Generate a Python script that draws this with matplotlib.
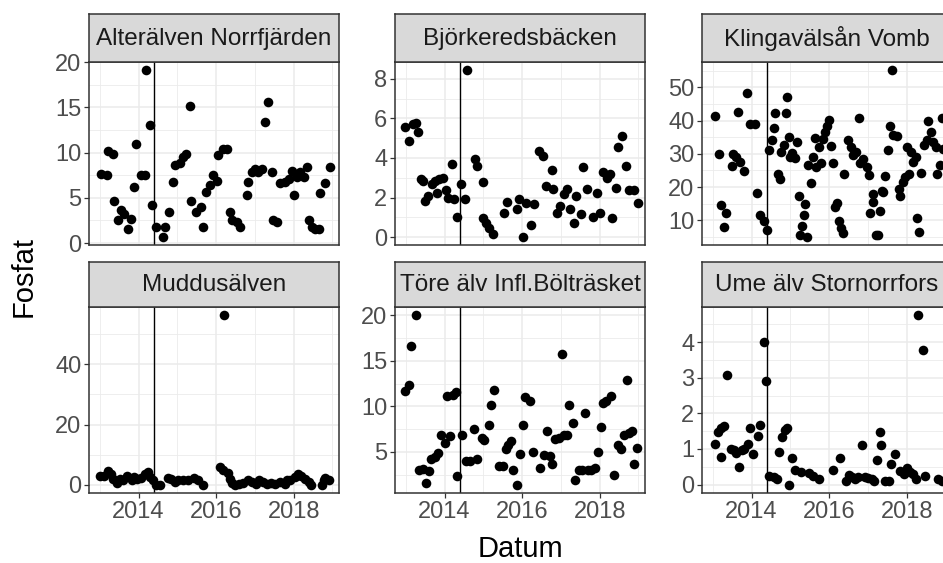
import numpy as np
import matplotlib
matplotlib.use("Agg")
from matplotlib import pyplot as plt
from matplotlib.ticker import MultipleLocator, FixedLocator, NullLocator

W, H = 943, 563
plt.rcParams['font.family'] = ['Liberation Sans', 'DejaVu Sans']

# sampling dates as decimal years
alter = [(2013.03, 7.66), (2013.18, 7.5), (2013.2, 10.2), (2013.33, 9.9), (2013.37, 4.7),
         (2013.46, 2.5), (2013.54, 3.6), (2013.63, 3.2), (2013.72, 1.6), (2013.8, 2.7),
         (2013.89, 6.2), (2013.93, 11.0), (2014.06, 7.5), (2014.16, 7.5), (2014.19, 19.1),
         (2014.3, 13.0), (2014.35, 4.2), (2014.45, 1.8), (2014.62, 0.7), (2014.69, 1.8),
         (2014.78, 3.4), (2014.88, 6.7), (2014.93, 8.6), (2015.06, 8.9), (2015.14, 9.5),
         (2015.21, 9.9), (2015.32, 15.2), (2015.36, 4.7), (2015.49, 3.4), (2015.62, 4.0),
         (2015.66, 1.8), (2015.75, 5.6), (2015.84, 6.4), (2015.92, 7.5), (2016.01, 6.9),
         (2016.05, 9.7), (2016.18, 10.4), (2016.27, 10.4), (2016.35, 3.4), (2016.4, 2.5),
         (2016.53, 2.3), (2016.61, 1.8), (2016.79, 5.3), (2016.83, 6.7), (2016.92, 7.8),
         (2017.0, 8.2), (2017.09, 7.8), (2017.18, 8.2), (2017.26, 13.4), (2017.35, 15.6),
         (2017.44, 7.8), (2017.48, 2.5), (2017.57, 2.3), (2017.66, 6.6), (2017.78, 6.7),
         (2017.87, 7.1), (2017.96, 8.0), (2018.0, 5.3), (2018.09, 7.3), (2018.17, 7.8),
         (2018.26, 7.3), (2018.35, 8.4), (2018.39, 2.5), (2018.48, 1.8), (2018.56, 1.6),
         (2018.65, 1.6), (2018.69, 5.5), (2018.8, 6.6), (2018.95, 8.4)]

bjorkered = [(2012.99, 5.55), (2013.09, 4.87), (2013.18, 5.7), (2013.25, 5.77), (2013.31, 5.33),
             (2013.38, 2.96), (2013.45, 2.84), (2013.49, 1.83), (2013.58, 2.08), (2013.67, 2.67),
             (2013.76, 2.84), (2013.8, 2.25), (2013.85, 2.93), (2013.96, 3.0), (2014.03, 2.4),
             (2014.09, 2.0), (2014.18, 3.7), (2014.24, 1.9), (2014.31, 1.03), (2014.43, 2.67),
             (2014.53, 1.9), (2014.58, 8.43), (2014.78, 3.94), (2014.84, 3.6), (2014.98, 2.8),
             (2015.0, 0.98), (2015.06, 0.73), (2015.15, 0.47), (2015.24, 0.14), (2015.54, 1.24),
             (2015.6, 1.78), (2015.87, 1.4), (2015.93, 1.91), (2016.02, 0.02), (2016.09, 1.74),
             (2016.22, 0.6), (2016.31, 1.66), (2016.44, 4.37), (2016.53, 4.1), (2016.62, 2.6),
             (2016.76, 3.4), (2016.8, 2.45), (2016.91, 1.24), (2016.98, 1.57), (2017.07, 2.17),
             (2017.16, 2.45), (2017.24, 1.4), (2017.33, 0.73), (2017.4, 2.08), (2017.51, 1.15),
             (2017.56, 3.52), (2017.67, 2.42), (2017.82, 1.03), (2017.93, 2.25), (2018.0, 1.24),
             (2018.09, 3.3), (2018.18, 3.0), (2018.26, 3.2), (2018.31, 0.98), (2018.42, 2.5),
             (2018.47, 4.53), (2018.58, 5.13), (2018.69, 3.6), (2018.76, 2.4), (2018.89, 2.4),
             (2019.0, 1.74)]

klingavalsan = [(2013.06, 41.5), (2013.17, 29.9), (2013.22, 14.6), (2013.29, 7.9), (2013.35, 12.2),
                (2013.5, 26.2), (2013.52, 29.9), (2013.61, 29.1), (2013.65, 42.5), (2013.7, 27.6),
                (2013.81, 24.8), (2013.87, 48.3), (2013.96, 39.1), (2014.09, 39.1), (2014.13, 18.1),
                (2014.22, 11.5), (2014.31, 9.7), (2014.39, 7.1), (2014.44, 31.1), (2014.52, 34.2),
                (2014.57, 37.8), (2014.61, 42.4), (2014.68, 24.0), (2014.72, 22.4), (2014.77, 30.6),
                (2014.83, 32.6), (2014.89, 42.4), (2014.91, 47.0), (2014.96, 35.2), (2015.0, 29.1),
                (2015.04, 30.1), (2015.13, 28.6), (2015.17, 33.7), (2015.22, 17.4), (2015.26, 5.6),
                (2015.3, 8.2), (2015.35, 11.7), (2015.39, 14.8), (2015.43, 5.1), (2015.46, 26.5),
                (2015.54, 21.1), (2015.58, 29.1), (2015.63, 34.7), (2015.67, 26.0), (2015.74, 32.1),
                (2015.78, 27.1), (2015.84, 34.4), (2015.89, 36.7), (2015.95, 38.3), (2016.0, 40.3),
                (2016.04, 32.3), (2016.1, 27.2), (2016.15, 14.0), (2016.21, 15.3), (2016.26, 9.7),
                (2016.3, 7.6), (2016.35, 6.1), (2016.39, 24.0), (2016.48, 34.2), (2016.57, 32.1),
                (2016.61, 29.6), (2016.7, 30.6), (2016.77, 40.8), (2016.79, 27.1), (2016.87, 28.4),
                (2016.98, 26.1), (2017.03, 23.5), (2017.05, 12.3), (2017.12, 15.4), (2017.14, 17.9),
                (2017.21, 5.6), (2017.27, 5.6), (2017.31, 12.8), (2017.36, 18.9), (2017.4, 18.4),
                (2017.45, 23.2), (2017.53, 31.1), (2017.58, 38.3), (2017.62, 55.1), (2017.66, 35.8),
                (2017.75, 35.5), (2017.79, 19.4), (2017.84, 17.4), (2017.91, 21.4), (2017.97, 23.0),
                (2018.01, 32.1), (2018.05, 24.0), (2018.1, 30.6), (2018.17, 27.6), (2018.23, 29.1),
                (2018.27, 10.7), (2018.31, 6.6), (2018.36, 24.2), (2018.45, 32.6), (2018.52, 34.2),
                (2018.55, 39.8), (2018.62, 36.7), (2018.69, 33.7), (2018.75, 32.1), (2018.79, 24.0),
                (2018.86, 26.5), (2018.9, 40.8), (2018.95, 31.6)]

muddus = [(2013.0, 2.8), (2013.11, 3.1), (2013.21, 4.6), (2013.28, 3.7), (2013.35, 2.0),
          (2013.44, 0.6), (2013.52, 2.0), (2013.61, 1.7), (2013.71, 3.1), (2013.82, 1.5),
          (2013.89, 2.6), (2013.97, 2.0), (2014.06, 2.3), (2014.16, 3.7), (2014.23, 4.2),
          (2014.3, 2.6), (2014.36, 1.5), (2014.45, 0.1), (2014.56, 0.1), (2014.75, 2.3),
          (2014.84, 2.0), (2014.93, 0.9), (2015.01, 1.7), (2015.14, 1.5), (2015.27, 1.5),
          (2015.43, 2.3), (2015.53, 1.5), (2015.66, 0.1), (2016.1, 5.9), (2016.19, 5.0),
          (2016.21, 56.2), (2016.3, 3.9), (2016.36, 2.0), (2016.42, 0.6), (2016.49, 0.1),
          (2016.59, 0.3), (2016.7, 0.6), (2016.81, 1.5), (2016.92, 0.9), (2017.03, 0.3),
          (2017.11, 1.5), (2017.22, 0.9), (2017.31, 0.3), (2017.42, 0.6), (2017.52, 0.3),
          (2017.65, 0.9), (2017.77, 0.3), (2017.83, 1.5), (2017.91, 1.7), (2018.03, 2.6),
          (2018.11, 3.7), (2018.2, 3.1), (2018.29, 2.0), (2018.39, 0.9), (2018.46, 0.1),
          (2018.72, 0.1), (2018.78, 1.5), (2018.82, 2.3), (2018.91, 1.5)]

tore = [(2012.97, 11.7), (2013.08, 12.4), (2013.12, 16.6), (2013.27, 20.0), (2013.34, 3.0),
        (2013.45, 3.1), (2013.52, 1.6), (2013.59, 2.9), (2013.65, 4.2), (2013.74, 4.4),
        (2013.82, 4.9), (2013.91, 6.9), (2014.0, 6.0), (2014.06, 11.1), (2014.13, 6.7),
        (2014.22, 11.3), (2014.29, 11.6), (2014.31, 2.3), (2014.44, 6.8), (2014.55, 4.0),
        (2014.66, 4.0), (2014.75, 7.5), (2014.84, 4.2), (2014.97, 6.5), (2015.01, 6.3),
        (2015.14, 7.9), (2015.19, 10.1), (2015.27, 11.8), (2015.41, 3.4), (2015.5, 3.4),
        (2015.58, 5.3), (2015.64, 5.8), (2015.71, 6.2), (2015.76, 3.0), (2015.88, 1.4),
        (2015.94, 4.8), (2016.03, 7.9), (2016.07, 11.0), (2016.2, 10.6), (2016.29, 5.0),
        (2016.47, 3.2), (2016.56, 4.7), (2016.64, 7.3), (2016.71, 4.5), (2016.78, 3.7),
        (2016.86, 6.4), (2016.95, 6.5), (2017.02, 15.8), (2017.08, 6.8), (2017.17, 6.9),
        (2017.21, 10.1), (2017.3, 8.2), (2017.37, 1.9), (2017.47, 3.0), (2017.54, 3.0),
        (2017.63, 9.3), (2017.69, 3.0), (2017.78, 3.0), (2017.87, 3.2), (2017.95, 5.0),
        (2018.04, 7.7), (2018.08, 10.4), (2018.17, 10.6), (2018.3, 11.1), (2018.36, 2.5),
        (2018.48, 5.8), (2018.54, 5.3), (2018.63, 6.8), (2018.7, 12.9), (2018.77, 7.1),
        (2018.84, 7.3), (2018.88, 3.7), (2018.97, 5.4)]

ume = [(2013.06, 1.15), (2013.13, 1.48), (2013.2, 1.58), (2013.21, 0.77), (2013.28, 1.64),
       (2013.37, 3.08), (2013.46, 1.01), (2013.55, 0.96), (2013.61, 0.89), (2013.67, 0.49),
       (2013.74, 0.96), (2013.81, 1.01), (2013.9, 1.15), (2013.96, 1.6), (2014.04, 0.87),
       (2014.16, 1.36), (2014.22, 1.67), (2014.31, 4.0), (2014.37, 2.92), (2014.44, 0.25),
       (2014.57, 0.21), (2014.66, 0.16), (2014.7, 0.92), (2014.79, 1.34), (2014.87, 1.53),
       (2014.92, 1.58), (2014.96, 0.0), (2015.03, 0.75), (2015.12, 0.4), (2015.27, 0.35),
       (2015.48, 0.32), (2015.59, 0.25), (2015.75, 0.16), (2016.11, 0.4), (2016.29, 0.75),
       (2016.43, 0.09), (2016.52, 0.28), (2016.58, 0.21), (2016.66, 0.16), (2016.75, 0.21),
       (2016.86, 1.1), (2016.93, 0.21), (2017.01, 0.19), (2017.1, 0.16), (2017.16, 0.11),
       (2017.23, 0.68), (2017.3, 1.48), (2017.34, 1.1), (2017.45, 0.11), (2017.54, 0.11),
       (2017.6, 0.58), (2017.71, 0.87), (2017.84, 0.38), (2017.93, 0.3), (2018.01, 0.47),
       (2018.08, 0.35), (2018.17, 0.3), (2018.23, 0.16), (2018.3, 4.75), (2018.41, 3.77),
       (2018.47, 0.23), (2018.8, 0.16), (2018.91, 0.11)]

stations = ["Alterälven Norrfjärden", "Björkeredsbäcken", "Klingavälsån Vomb",
            "Muddusälven", "Töre älv Infl.Bölträsket", "Ume älv Stornorrfors"]
series = [alter, bjorkered, klingavalsan, muddus, tore, ume]
y_steps = [5, 2, 10, 20, 5, 1]
x_major = [2014, 2016, 2018]
x_minor = [2013, 2015, 2017, 2019]
x_range = (2012.72, 2019.17)
vline_year = 2014.4

fig = plt.figure(figsize=(W / 100, H / 100), dpi=100)


def px_box(left, top, right, bottom):
    return [left / W, 1 - bottom / H, (right - left) / W, (bottom - top) / H]


col_left = [89, 395, 702]
panel_w = 250
rows = [(14, 62, 245), (262, 307, 493)]
edge = '#333333'

for i, (name, pts) in enumerate(zip(stations, series)):
    r, c = divmod(i, 3)
    s_top, p_top, p_bot = rows[r]
    left = col_left[c]
    right = left + panel_w
    xs = np.array([p[0] for p in pts])
    ys = np.array([p[1] for p in pts])

    ax = fig.add_axes(px_box(left, p_top, right, p_bot))
    ax.scatter(xs, ys, s=48, color='black', zorder=3, linewidths=0)
    ax.axvline(vline_year, color='black', lw=1.0, zorder=2)

    pad = (ys.max() - ys.min()) * 0.05
    ax.set_ylim(ys.min() - pad, ys.max() + pad)
    ax.set_xlim(*x_range)
    ax.yaxis.set_major_locator(MultipleLocator(y_steps[i]))
    ax.yaxis.set_minor_locator(MultipleLocator(y_steps[i] / 2))
    ax.xaxis.set_major_locator(FixedLocator(x_major))
    ax.xaxis.set_minor_locator(FixedLocator(x_minor))
    ax.set_axisbelow(True)
    ax.grid(which='major', color='#EBEBEB', lw=1.1)
    ax.grid(which='minor', color='#EBEBEB', lw=0.6)
    for sp in ax.spines.values():
        sp.set_color(edge)
        sp.set_linewidth(1.1)
    ax.tick_params(which='minor', length=0)
    ax.tick_params(which='major', length=3.5, width=0.9, color=edge,
                   labelsize=17, labelcolor='#4D4D4D', pad=2)
    if r == 0:
        ax.tick_params(axis='x', which='both', length=0, labelbottom=False)
    else:
        ax.set_xticklabels([str(v) for v in x_major])

    strip = fig.add_axes(px_box(left, s_top, right, p_top))
    strip.set_facecolor('#D9D9D9')
    strip.set_xticks([])
    strip.set_yticks([])
    for sp in strip.spines.values():
        sp.set_color(edge)
        sp.set_linewidth(1.1)
    strip.text(0.5, 0.48, name, ha='center', va='center', fontsize=17.5,
               color='#1A1A1A', transform=strip.transAxes, clip_on=True)

fig.text(520 / W, 1 - 549 / H, "Datum", ha='center', va='center', fontsize=21)
fig.text(24 / W, 1 - 277 / H, "Fosfat", ha='center', va='center', fontsize=21,
         rotation=90)

fig.savefig("out.png", dpi=100, facecolor='white')
